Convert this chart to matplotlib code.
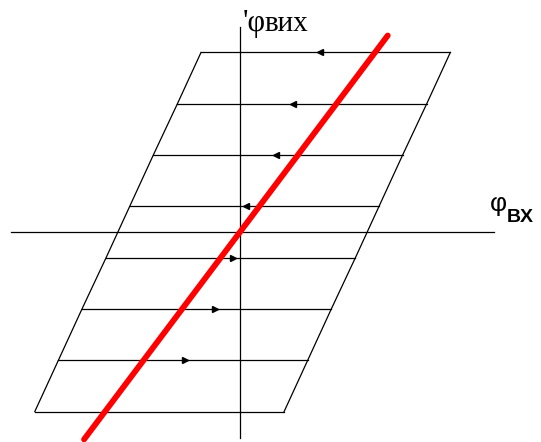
import numpy as np
import matplotlib
matplotlib.use("Agg")
import matplotlib.pyplot as plt

# Output levels of the quantiser (one horizontal step per level)
levels = np.array([3.5, 2.5, 1.5, 0.5, -0.5, -1.5, -2.5, -3.5])
# Left switching boundary of the hysteresis region at each level
x_left = np.array([-0.76, -1.22, -1.69, -2.15, -2.61, -3.08, -3.54, -4.0])
loop_width = 4.86
x_right = x_left + loop_width

# Arrow positions: decreasing input on upper levels, increasing on lower ones
arrow_left_levels = np.array([3.5, 2.5, 1.5, 0.5])
arrow_left_x = np.array([1.56, 1.03, 0.70, 0.12])
arrow_right_levels = np.array([-0.5, -1.5, -2.5])
arrow_right_x = np.array([-0.14, -0.49, -1.07])

# Ideal transfer characteristic
gain = 1.33
ideal_x = np.array([-3.04, 2.88])

# Axis extents
x_axis = np.array([-4.46, 4.95])
y_axis = np.array([-4.02, 4.0])

scale = 51.3  # pixels per unit
W, H = 541, 442
ox, oy = 240, 232

fig = plt.figure(figsize=(W / 100, H / 100), dpi=100)
ax = fig.add_axes([0, 0, 1, 1])
ax.set_xlim(-ox / scale, (W - ox) / scale)
ax.set_ylim(-(H - oy) / scale, oy / scale)
ax.axis("off")

# Coordinate axes
ax.plot(x_axis, [0, 0], color="black", lw=0.9)
ax.plot([0, 0], y_axis, color="black", lw=0.9)

# Horizontal steps
for lv, xl, xr in zip(levels, x_left, x_right):
    ax.plot([xl, xr], [lv, lv], color="black", lw=0.9)

# Slanted boundaries of the region
ax.plot(x_left, levels, color="black", lw=0.9)
ax.plot(x_right, levels, color="black", lw=0.9)

# Direction arrows
ax.plot(arrow_left_x, arrow_left_levels, ls="none", marker="<",
        color="black", markersize=4.5)
ax.plot(arrow_right_x, arrow_right_levels, ls="none", marker=">",
        color="black", markersize=4.5)

# Ideal line
ax.plot(ideal_x, gain * ideal_x, color="#ff0000", lw=4.2,
        solid_capstyle="round")

# Axis labels
ax.text(0.05, 3.92, "'φ", fontsize=22, family="Liberation Serif",
        ha="left", va="baseline")
ax.text(0.47, 3.92, "вих", fontsize=21, family="Liberation Serif",
        ha="left", va="baseline")
ax.text(4.88, 0.40, "φ", fontsize=19, family="Liberation Sans",
        ha="left", va="baseline")
ax.text(5.20, 0.195, "BX", fontsize=14, family="Liberation Sans",
        weight="bold", ha="left", va="baseline")

fig.savefig("out.png", dpi=100)
